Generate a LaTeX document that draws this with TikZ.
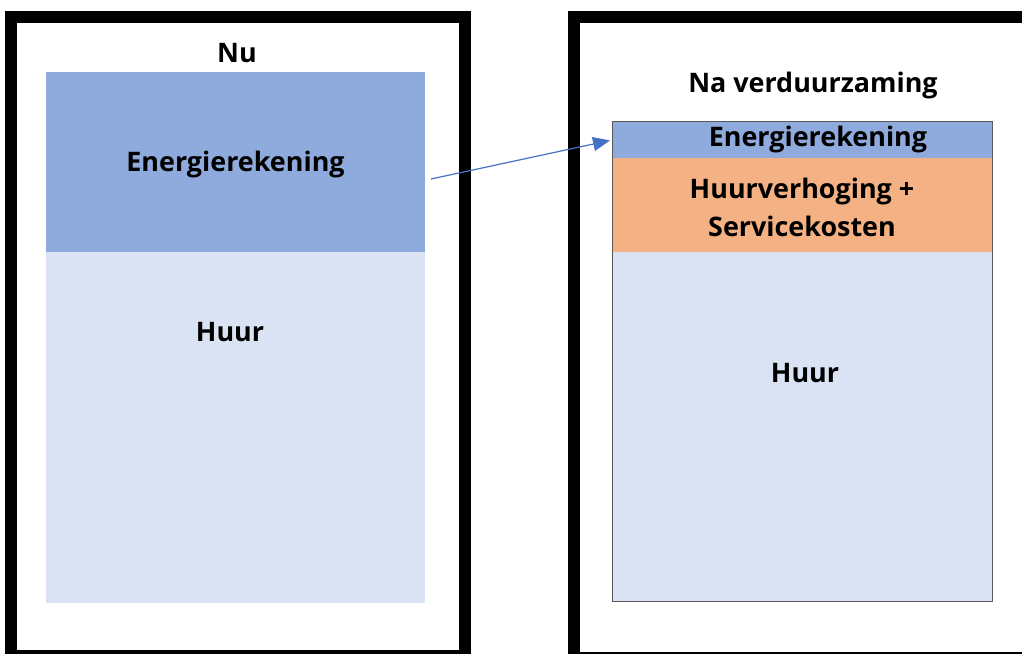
\documentclass[tikz,border=0pt]{standalone}
\usepackage{fontspec}
\setmainfont{Open Sans}
\usetikzlibrary{arrows.meta}
\definecolor{energieblauw}{HTML}{8FAADC}
\definecolor{huurblauw}{HTML}{DAE3F3}
\definecolor{kostenoranje}{HTML}{F4B183}
\definecolor{pijlblauw}{HTML}{4472C4}

\begin{document}
\begin{tikzpicture}[x=1bp,y=-1bp,
  frame/.style={draw=black,line width=12bp},
  block/.style={inner sep=0pt,outer sep=0pt,anchor=north west,minimum width=379bp},
  lbl/.style={font=\fontsize{27}{38}\selectfont\bfseries,align=center,inner sep=0pt}]
  \useasboundingbox (0,0) rectangle (1022,654);
  \clip (0,0) rectangle (1022,654);
  %left
  \draw[frame] (11,17) rectangle (465,656);
  \node[block,fill=energieblauw,minimum height=180bp] (energieL) at (46,72) {};
  \node[block,fill=huurblauw,minimum height=351bp] (huurL) at (46,252) {};
  \node[at=(energieL.north),above=9pt,xshift=1.5pt,lbl] (nu) {Nu};
  \node[at=(energieL),yshift=-3pt,lbl] {Energierekening};
  \node[at=(huurL.north),below=70.5pt,xshift=-5.5pt,lbl] {Huur};
  %right
  \draw[frame] (573.5,17) rectangle (1040,658);
  \node[block,fill=energieblauw,minimum width=380bp,minimum height=36bp] (energieR) at (612,122) {};
  \node[block,fill=kostenoranje,minimum width=380bp,minimum height=94bp] (kostenR) at (612,158) {};
  \node[block,fill=huurblauw,minimum width=380bp,minimum height=349bp] (huurR) at (612,252) {};
  \draw[black!65,line width=1bp] (energieR.north west) rectangle (huurR.south east);
  \node[at=(energieR.north),above=23pt,xshift=11pt,lbl] (na) {Na verduurzaming};
  \node[at=(energieR),xshift=16pt,lbl] {Energierekening};
  \node[at=(kostenR),yshift=-2.5pt,lbl] {Huurverhoging +\\Servicekosten};
  \node[at=(huurR.north),below=111.5pt,xshift=3pt,lbl] {Huur};
  %arrow
  \coordinate (van) at (431,179);
  \draw[pijlblauw,line width=1.2bp,-{Triangle[length=17bp,width=14bp]},shorten >=2bp] (van) -- (energieR.west);
\end{tikzpicture}
\end{document}
